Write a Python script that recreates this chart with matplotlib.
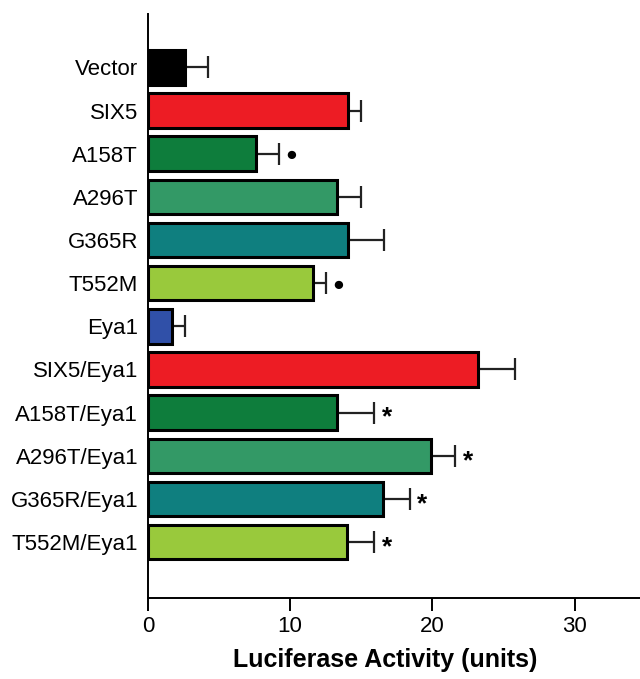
import matplotlib.pyplot as plt

plt.rcParams['font.family'] = ['Liberation Sans', 'DejaVu Sans']

labels = ["Vector", "SIX5", "A158T", "A296T", "G365R", "T552M", "Eya1",
          "SIX5/Eya1", "A158T/Eya1", "A296T/Eya1", "G365R/Eya1", "T552M/Eya1"]
values = [2.6, 14.1, 7.6, 13.3, 14.1, 11.6, 1.7, 23.2, 13.3, 19.9, 16.5, 14.0]
errors = [1.6, 0.9, 1.6, 1.7, 2.5, 0.9, 0.9, 2.6, 2.6, 1.7, 1.9, 1.9]
colors = ["#000000", "#ED1C24", "#0E7D3C", "#339966", "#0F7F7F", "#99C93C",
          "#3050A8", "#ED1C24", "#0E7D3C", "#339966", "#0F7F7F", "#99C93C"]
marks = ["", "", "●", "", "", "●", "", "", "*", "*", "*", "*"]

fig = plt.figure(figsize=(6.4, 6.79), dpi=100)
ax = fig.add_axes([0.231, 0.119, 0.769, 0.86])

y = list(range(len(labels)))
ax.barh(y, values, height=0.8, color=colors, edgecolor="black", linewidth=2.2, zorder=2)
ax.errorbar(values, y, xerr=[[0] * len(errors), errors], fmt="none",
            ecolor="#222222", elinewidth=1.6, capsize=8, capthick=1.6, zorder=1)

for i, m in enumerate(marks):
    if not m:
        continue
    x = values[i] + errors[i] + 0.9
    if m == "*":
        ax.text(x, i + 0.12, m, ha="center", va="center", fontsize=19, fontweight="bold")
    else:
        ax.text(x, i + 0.05, m, ha="center", va="center", fontsize=14)

ax.set_yticks(y)
ax.set_yticklabels(labels, fontsize=16)
ax.tick_params(axis="y", length=0, pad=7)
ax.set_ylim(len(labels) - 1 + 1.3, -1.23)

ax.set_xlim(0, 34.6)
ax.set_xticks([0, 10, 20, 30])
ax.tick_params(axis="x", labelsize=16, length=9, width=1.4, pad=4)
ax.set_xlabel("Luciferase Activity (units)", fontsize=18, fontweight="bold")
ax.xaxis.set_label_coords(0.482, -0.085)

for s in ["top", "right"]:
    ax.spines[s].set_visible(False)
for s in ["left", "bottom"]:
    ax.spines[s].set_linewidth(1.4)

fig.savefig("out.png", dpi=100)
